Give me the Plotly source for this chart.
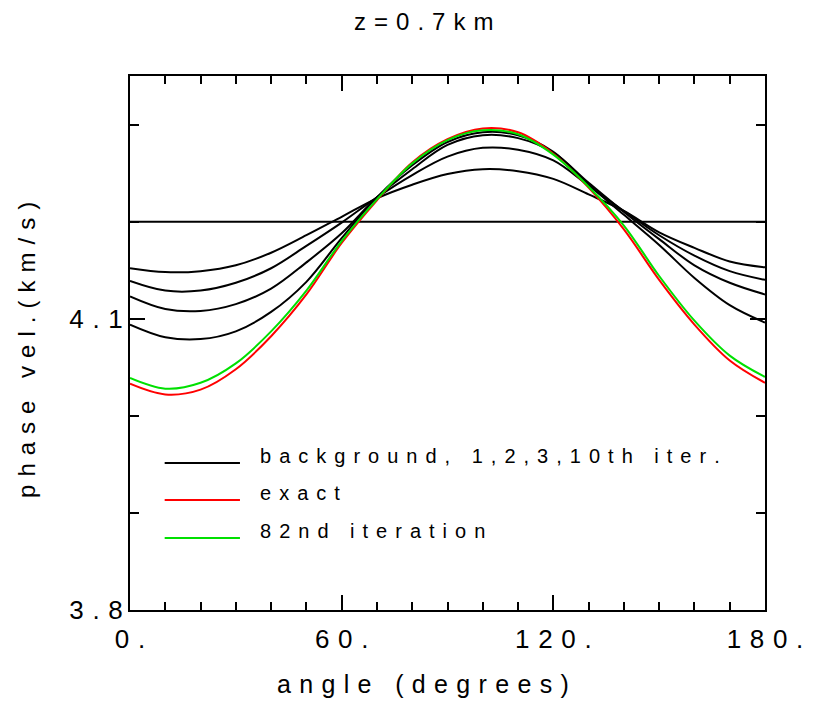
import plotly.graph_objects as go

# ---- data ----
angle = [0, 10, 20, 30, 40, 50, 60, 70, 80, 90, 100, 110, 120, 130, 140, 150, 160, 170, 180]

background = [4.2] * 19
iter1 = [4.152, 4.148, 4.149, 4.155, 4.168, 4.186, 4.205, 4.224, 4.238, 4.249, 4.254,
         4.252, 4.244, 4.228, 4.211, 4.189, 4.173, 4.159, 4.153]
iter2 = [4.139, 4.129, 4.129, 4.137, 4.152, 4.175, 4.199, 4.225, 4.248, 4.267, 4.276,
         4.274, 4.263, 4.237, 4.211, 4.186, 4.165, 4.149, 4.140]
iter3 = [4.123, 4.110, 4.108, 4.115, 4.131, 4.158, 4.188, 4.225, 4.254, 4.279, 4.289,
         4.286, 4.271, 4.240, 4.210, 4.182, 4.155, 4.137, 4.125]
iter10 = [4.094, 4.081, 4.079, 4.087, 4.107, 4.138, 4.183, 4.225, 4.258, 4.282, 4.292,
          4.289, 4.272, 4.238, 4.207, 4.176, 4.142, 4.114, 4.096]
exact = [4.033, 4.022, 4.027, 4.048, 4.082, 4.125, 4.178, 4.222, 4.261, 4.285, 4.296,
         4.292, 4.270, 4.235, 4.192, 4.140, 4.094, 4.057, 4.034]
iter82 = [4.039, 4.028, 4.034, 4.054, 4.087, 4.129, 4.180, 4.223, 4.260, 4.284, 4.294,
          4.290, 4.269, 4.236, 4.196, 4.144, 4.098, 4.062, 4.040]

x_tickvals = [0, 60, 120, 180]
x_ticklabels = ["0.", "60.", "120.", "180."]
y_tickvals = [3.8, 4.1]
y_ticklabels = ["3.8", "4.1"]

legend_labels = ["background, 1,2,3,10th iter.", "exact", "82nd iteration"]
legend_colors = ["black", "#ff0000", "#00e000"]

FONT = "Liberation Sans, Arial, Helvetica, sans-serif"
GAP = "\u2004"


def sp(s, gap=GAP):
    return gap.join(list(s))


fig = go.Figure()
black_series = [background, iter1, iter2, iter3, iter10]
for ys in black_series:
    fig.add_trace(go.Scatter(x=angle, y=ys, mode="lines",
                             line=dict(color="black", width=2, shape="spline", smoothing=1),
                             showlegend=False, hoverinfo="skip"))
fig.add_trace(go.Scatter(x=angle, y=exact, mode="lines",
                         line=dict(color=legend_colors[1], width=2, shape="spline", smoothing=1),
                         showlegend=False))
fig.add_trace(go.Scatter(x=angle, y=iter82, mode="lines",
                         line=dict(color=legend_colors[2], width=2, shape="spline", smoothing=1),
                         showlegend=False))

axis_common = dict(showline=True, linecolor="black", linewidth=2, mirror="ticks",
                   ticks="inside", tickcolor="black", tickwidth=1.5,
                   showgrid=False, zeroline=False,
                   tickfont=dict(family=FONT, size=26, color="black"))

fig.update_xaxes(range=[0, 180], tickvals=x_tickvals,
                 ticktext=[sp(t) for t in x_ticklabels], ticklen=15,
                 minor=dict(dtick=10, ticks="inside", ticklen=8, tickcolor="black", tickwidth=1.5,
                            showgrid=False),
                 ticklabelstandoff=5, **axis_common)
fig.update_yaxes(range=[3.8, 4.35], tickvals=y_tickvals,
                 ticktext=[sp(t) for t in y_ticklabels], ticklen=15,
                 minor=dict(tick0=3.8, dtick=0.1, ticks="inside", ticklen=9, tickcolor="black",
                            tickwidth=1.5, showgrid=False),
                 ticklabelstandoff=0, **axis_common)

W, H = 815, 709
L, R, T, B = 130, 44, 76, 99
pw, ph = W - L - R, H - T - B


def px(xp):
    return (xp - L) / pw


def py(yp):
    return (H - B - yp) / ph


annotations = [
    dict(text=sp("z=0.7km"), x=px(426), y=py(22), xref="paper", yref="paper",
         xanchor="center", yanchor="middle", showarrow=False,
         font=dict(family=FONT, size=24, color="black")),
    dict(text=sp("angle (degrees)"), x=px(426), y=py(684), xref="paper", yref="paper",
         xanchor="center", yanchor="middle", showarrow=False,
         font=dict(family=FONT, size=25, color="black")),
    dict(text=sp("phase vel.(km/s)"), x=px(26), y=py(350), xref="paper", yref="paper",
         xanchor="center", yanchor="middle", showarrow=False, textangle=-90,
         font=dict(family=FONT, size=24, color="black")),
]

shapes = []
legend_base = [463, 500, 538]
for lab, col, yb in zip(legend_labels, legend_colors, legend_base):
    shapes.append(dict(type="line", xref="paper", yref="paper",
                       x0=px(165), x1=px(241), y0=py(yb), y1=py(yb),
                       line=dict(color=col, width=2)))
    annotations.append(dict(text=sp(lab, "\u2009\u2009"), x=px(259), y=py(yb - 7),
                            xref="paper", yref="paper",
                            xanchor="left", yanchor="middle", showarrow=False,
                            font=dict(family=FONT, size=20, color="black")))

fig.update_layout(width=W, height=H, margin=dict(l=L, r=R, t=T, b=B),
                  paper_bgcolor="white", plot_bgcolor="white",
                  annotations=annotations, shapes=shapes, showlegend=False)

fig.write_html("out.html")
